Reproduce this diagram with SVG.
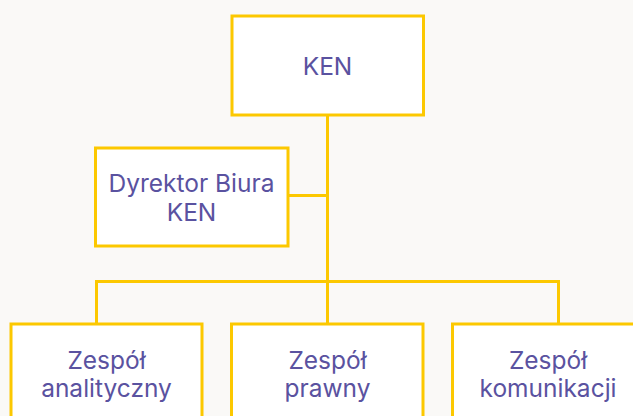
<svg xmlns="http://www.w3.org/2000/svg" width="633" height="416" viewBox="0 0 633 416">
<style>
.box{fill:#ffffff;stroke:#fcc800;stroke-width:3}
.ln{fill:none;stroke:#fcc800;stroke-width:3}
.t{font-family:Inter,"Open Sans","Liberation Sans",sans-serif;font-size:24.5px;font-weight:400;fill:#5a52a0;text-anchor:middle}
</style>
<rect x="0" y="0" width="633" height="416" fill="#faf9f7"/>
<g id="connectors">
<line class="ln" x1="327.5" y1="115" x2="327.5" y2="324"/>
<line class="ln" x1="288" y1="195.5" x2="327.5" y2="195.5"/>
<polyline class="ln" points="96.5,324 96.5,281.5 558.5,281.5 558.5,324"/>
</g>
<g id="ken">
<rect class="box" x="232" y="16" width="191.5" height="99"/>
<text class="t" x="327.5" y="75">KEN</text>
</g>
<g id="dyrektor">
<rect class="box" x="95.5" y="148" width="192.5" height="98"/>
<text class="t" x="191.5" y="191.5">Dyrektor Biura</text>
<text class="t" x="191.5" y="220.5">KEN</text>
</g>
<g id="analityczny">
<rect class="box" x="11" y="324" width="191" height="110"/>
<text class="t" x="106.5" y="369">Zespół</text>
<text class="t" x="106.5" y="397">analityczny</text>
</g>
<g id="prawny">
<rect class="box" x="231.5" y="324" width="191.5" height="110"/>
<text class="t" x="327.5" y="369">Zespół</text>
<text class="t" x="327.5" y="397">prawny</text>
</g>
<g id="komunikacji">
<rect class="box" x="452.5" y="324" width="192" height="110"/>
<text class="t" x="548" y="369">Zespół</text>
<text class="t" x="548" y="397">komunikacji</text>
</g>
</svg>
